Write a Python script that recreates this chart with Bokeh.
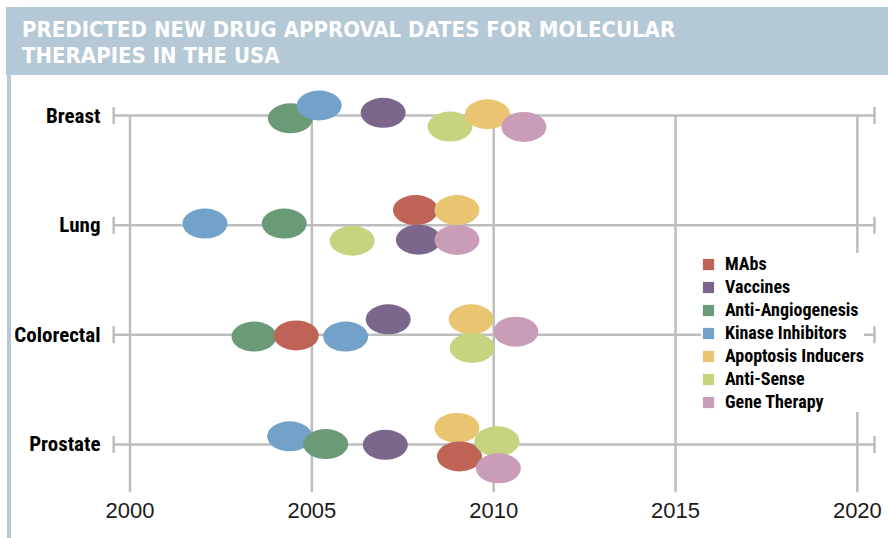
import math
from bokeh.plotting import figure
from bokeh.models import (ColumnDataSource, Range1d, FixedTicker, Legend,
                          LegendItem, Div)
from bokeh.layouts import column, row
from bokeh.embed import file_html
from bokeh.resources import INLINE

# ---------------- data ----------------
title_text = ["PREDICTED NEW DRUG APPROVAL DATES FOR MOLECULAR",
              "THERAPIES IN THE USA"]
categories = ["Breast", "Lung", "Colorectal", "Prostate"]
therapies = ["MAbs", "Vaccines", "Anti-Angiogenesis", "Kinase Inhibitors",
             "Apoptosis Inducers", "Anti-Sense", "Gene Therapy"]
therapy_colors = ["#bf6356", "#7d668b", "#6b9b76", "#72a1c9",
                  "#e9c571", "#c6d47f", "#c99cb8"]

# predicted approval year, one value per category (Breast, Lung, Colorectal, Prostate)
mabs_years = [None, 2007.85, 2004.57, 2009.06]
vaccines_years = [2006.96, 2007.93, 2007.10, 2007.02]
antiangio_years = [2004.41, 2004.24, 2003.41, 2005.38]
kinase_years = [2005.20, 2002.06, 2005.93, 2004.39]
apoptosis_years = [2009.83, 2008.99, 2009.38, 2008.99]
antisense_years = [2008.80, 2006.11, 2009.41, 2010.09]
gene_years = [2010.83, 2008.99, 2010.61, 2010.13]

# vertical jitter of each bubble around its category line (in row units)
mabs_jitter = [None, 0.138, -0.006, -0.11]
vaccines_jitter = [0.025, -0.132, 0.141, -0.004]
antiangio_jitter = [-0.025, 0.015, -0.016, 0.003]
kinase_jitter = [0.092, 0.015, -0.016, 0.074]
apoptosis_jitter = [0.012, 0.138, 0.141, 0.15]
antisense_jitter = [-0.10, -0.142, -0.12, 0.028]
gene_jitter = [-0.104, -0.135, 0.028, -0.218]

year_ticks = [2000, 2005, 2010, 2015, 2020]

all_years = [mabs_years, vaccines_years, antiangio_years, kinase_years,
             apoptosis_years, antisense_years, gene_years]
all_jitter = [mabs_jitter, vaccines_jitter, antiangio_jitter, kinase_jitter,
              apoptosis_jitter, antisense_jitter, gene_jitter]

# ---------------- styles ----------------
BANNER = "#b4c8d5"
GRID = "#bdbdbd"
NARROW = ("'Roboto Condensed', 'Noto Sans ExtraCondensed', 'Noto Sans Condensed', "
          "'Liberation Sans Narrow', 'DejaVu Sans Condensed', sans-serif")
REGULAR = "'Liberation Sans', Arial, sans-serif"

n_cat = len(categories)
row_pos = [n_cat - i for i in range(n_cat)]          # Breast on top
X_START, X_END = 1999.463, 2020.856
Y_START, Y_END = 0.561, 4.320
LINE_START, LINE_END = 1999.55, 2020.47
NAN = float("nan")

# ---------------- bubbles (drawn left-to-right, later ones on top) -------------
pts = []
for t, col, yrs, jit in zip(therapies, therapy_colors, all_years, all_jitter):
    for ci, (yv, jv) in enumerate(zip(yrs, jit)):
        if yv is None:
            continue
        pts.append((yv, row_pos[ci] + jv, col, t, categories[ci]))
pts.sort(key=lambda r: r[0])
src = ColumnDataSource(dict(
    x=[r[0] for r in pts], y=[r[1] for r in pts], color=[r[2] for r in pts],
    therapy=[r[3] for r in pts], category=[r[4] for r in pts]))

W_FIG, H_FIG = 877, 463
p = figure(width=W_FIG, height=H_FIG, output_backend="svg", toolbar_location=None,
           x_range=Range1d(X_START, X_END), y_range=Range1d(Y_START, Y_END),
           min_border_left=97, min_border_right=0, min_border_top=5,
           min_border_bottom=46)
p.outline_line_color = None
p.background_fill_color = "white"
p.border_fill_color = "white"
p.grid.visible = False

# vertical year lines from the top category line down to the axis
p.segment(x0=year_ticks, x1=year_ticks, y0=[row_pos[0]] * len(year_ticks),
          y1=[Y_START] * len(year_ticks), line_color=GRID, line_width=2.5)
# category lines with end caps
p.segment(x0=[LINE_START] * n_cat, x1=[LINE_END] * n_cat, y0=row_pos, y1=row_pos,
          line_color=GRID, line_width=2.5)
p.scatter(x=[LINE_START] * n_cat + [LINE_END] * n_cat, y=row_pos + row_pos,
          marker="dash", angle=math.pi / 2, size=17, line_color=GRID, line_width=2.5)

bubbles = p.ellipse(x="x", y="y", width=45, height=30, width_units="screen",
                    height_units="screen", fill_color="color", line_color=None,
                    source=src)

# x axis
xa = p.xaxis[0]
xa.ticker = FixedTicker(ticks=year_ticks)
xa.axis_line_color = None
xa.major_tick_line_color = None
xa.minor_tick_line_color = None
xa.major_label_standoff = 4
xa.major_label_text_font = REGULAR
xa.major_label_text_font_size = "22px"
xa.major_label_text_color = "#1a1a1a"

# y axis: category names
ya = p.yaxis[0]
ya.ticker = FixedTicker(ticks=row_pos)
ya.major_label_overrides = {rp: c for rp, c in zip(row_pos, categories)}
ya.axis_line_color = None
ya.major_tick_line_color = None
ya.minor_tick_line_color = None
ya.major_label_standoff = 4
ya.major_label_text_font = NARROW
ya.major_label_text_font_style = "bold"
ya.major_label_text_font_size = "21px"
ya.major_label_text_color = "#000000"

# legend swatches
items = []
for t, col in zip(therapies, therapy_colors):
    sw = p.quad(left=[NAN], right=[NAN], top=[NAN], bottom=[NAN],
                fill_color=col, line_color=None)
    items.append(LegendItem(label=t, renderers=[sw]))
legend = Legend(items=items, location=(591, 80), orientation="vertical",
                glyph_width=14, glyph_height=14, label_standoff=10, spacing=2,
                padding=8, margin=0, label_height=20,
                border_line_color=None, background_fill_color="white",
                background_fill_alpha=1.0,
                label_text_font=NARROW, label_text_font_style="bold",
                label_text_font_size="18px", label_text_color="#000000")
p.add_layout(legend)

banner = Div(
    text=("<div style=\"font-family:'DejaVu Sans Condensed','DejaVu Sans',sans-serif;"
          "font-weight:bold;font-stretch:condensed;font-size:22px;line-height:26px;"
          "color:#ffffff;padding:10px 0 0 16px;white-space:nowrap;\">"
          + "<br>".join(title_text) + "</div>"),
    width=882, height=68, margin=(7, 0, 0, 6),
    styles={"background-color": BANNER})
strip = Div(text="", width=4, height=H_FIG, margin=(0, 0, 0, 7),
            styles={"background-color": BANNER})

layout = column(banner, row(strip, p, spacing=0), spacing=0)

open("out.html", "w").write(file_html(layout, INLINE))
